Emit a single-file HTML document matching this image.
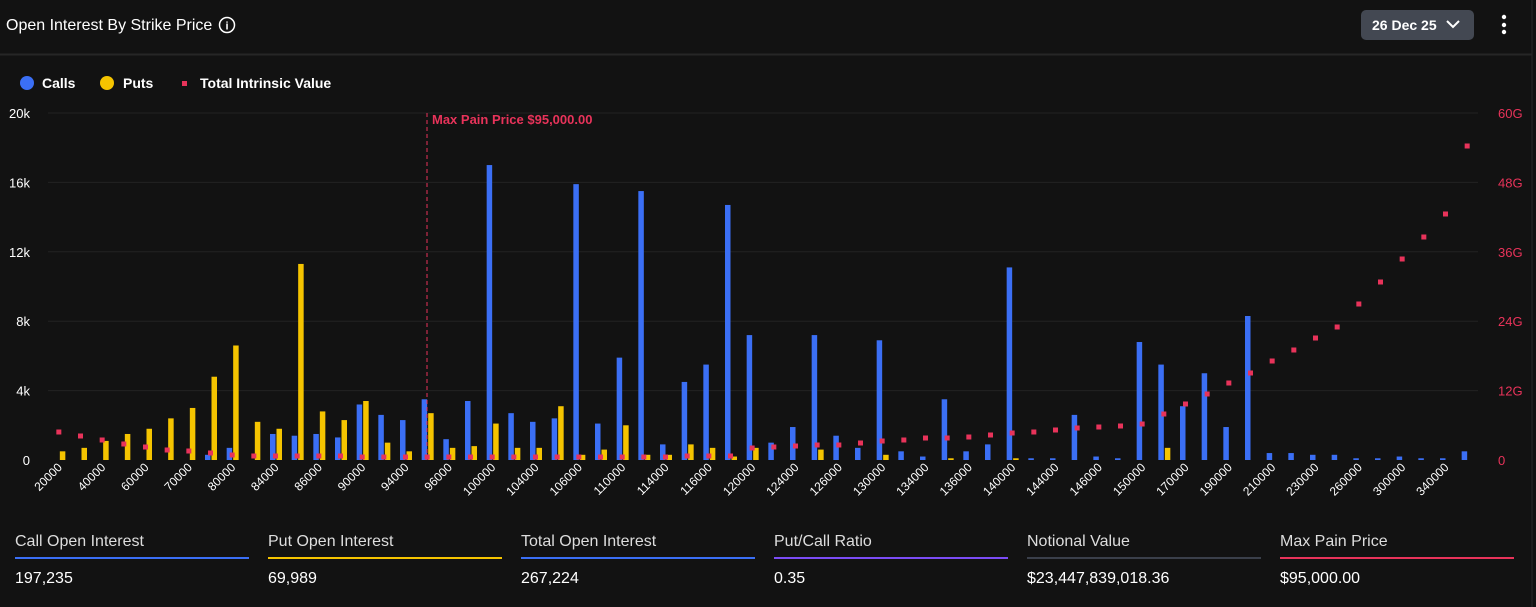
<!DOCTYPE html>
<html><head><meta charset="utf-8"><style>
body{margin:0;background:#121212;width:1536px;height:607px;overflow:hidden;font-family:"Liberation Sans",sans-serif;color:#fff}
svg{position:absolute;left:0;top:0}
</style></head><body>
<svg id="s" width="1536" height="607" xmlns="http://www.w3.org/2000/svg">
<rect x="0" y="0" width="1536" height="607" fill="#121212"/>
<line x1="1532" y1="0" x2="1532" y2="607" stroke="#2a2a2a"/>
<text x="6" y="30" font-size="16" fill="#fff">Open Interest By Strike Price</text>
<circle cx="227" cy="25" r="7.5" fill="none" stroke="#fff" stroke-width="1.5"/>
<text x="227" y="29.5" font-size="11" font-weight="bold" fill="#fff" text-anchor="middle">i</text>
<rect x="1361" y="10" width="113" height="30" rx="5" fill="#434852"/>
<text x="1372" y="30" font-size="14" font-weight="bold" fill="#fff">26 Dec 25</text>
<polyline points="1447,21 1453,27 1459,21" fill="none" stroke="#fff" stroke-width="2"/>
<circle cx="1504" cy="17" r="2.2" fill="#fff"/><circle cx="1504" cy="25" r="2.2" fill="#fff"/><circle cx="1504" cy="32" r="2.2" fill="#fff"/>
<line x1="0" y1="54.5" x2="1532" y2="54.5" stroke="#262626" stroke-width="2"/>
<circle cx="27" cy="83" r="7" fill="#3b6ff5"/>
<text x="42" y="88" font-size="14" font-weight="bold" fill="#fff">Calls</text>
<circle cx="107" cy="83" r="7" fill="#f5c400"/>
<text x="123" y="88" font-size="14" font-weight="bold" fill="#fff">Puts</text>
<rect x="182" y="81" width="5" height="5" fill="#e8335a"/>
<text x="200" y="88" font-size="14" font-weight="bold" fill="#fff">Total Intrinsic Value</text>
<g id="g"></g>
</svg>
<script>
const g=document.getElementById('g');let h='';
const y0=460,pk=347/20000;
[0,4,8,12,16,20].forEach((v,i)=>{const y=y0-v*1000*pk;
 if(i>0)h+=`<line x1="48" y1="${y}" x2="1478" y2="${y}" stroke="#222" stroke-width="1"/>`;
 h+=`<text x="30" y="${y+5}" font-size="13" fill="#fff" text-anchor="end">${v==0?'0':v+'k'}</text>`;
 const gv=i*12;h+=`<text x="1498" y="${y+5}" font-size="13" fill="#e8335a" text-anchor="start">${gv==0?'0':gv+'G'}</text>`;});
const C=[0,0,0,0,0,0,0,300,700,0,1500,1400,1500,1300,3200,2600,2300,3500,1200,3400,17000,2700,2200,2400,15900,2100,5900,15500,900,4500,5500,14700,7200,1000,1900,7200,1400,700,6900,500,200,3500,500,900,11100,100,100,2600,200,100,6800,5500,3100,5000,1900,8300,400,400,300,300,100,100,200,100,100,500];
const P=[500,700,1100,1500,1800,2400,3000,4800,6600,2200,1800,11300,2800,2300,3400,1000,500,2700,700,800,2100,700,700,3100,300,600,2000,300,300,900,700,200,700,0,0,600,0,0,300,0,0,100,0,0,100,0,0,0,0,0,0,700,0,0,0,0,0,0,0,0,0,0,0,0,0,0];
const DY=[432,436,440,444,447,450,451,453,455,456,456,456,456,456,457,457,457,457,457,457,457,457,457,457,457,457,457,457,457,456,456,456,448,447,446,445,445,443,441,440,438,438,437,435,433,432,430,428,427,426,424,414,404,394,383,373,361,350,338,327,304,282,259,237,214,146];
const L=['20000','40000','60000','70000','80000','84000','86000','90000','94000','96000','100000','104000','106000','110000','114000','116000','120000','124000','126000','130000','134000','136000','140000','144000','146000','150000','170000','190000','210000','230000','260000','300000','340000'];
const w=1430/66;
for(let i=0;i<66;i++){const c=48+w*(i+0.5);
 if(C[i]>0){const hh=C[i]*pk;h+=`<rect x="${c-5.5}" y="${y0-hh}" width="5.5" height="${hh}" fill="#3b6ff5"/>`;}
 if(P[i]>0){const hh=P[i]*pk;h+=`<rect x="${c+1}" y="${y0-hh}" width="5.5" height="${hh}" fill="#f5c400"/>`;}
 h+=`<rect x="${c-2.5}" y="${DY[i]-2.5}" width="5" height="5" fill="#e8335a"/>`;
 if(i%2==0){const lb=L[i/2];h+=`<text transform="translate(${c+4},${468}) rotate(-45)" font-size="12" fill="#fff" text-anchor="end">${lb}</text>`;}
}
h+=`<line x1="427" y1="113" x2="427" y2="460" stroke="#e8335a" stroke-dasharray="4,3"/>`;
h+=`<text x="432" y="124" font-size="13" font-weight="bold" fill="#e8335a">Max Pain Price $95,000.00</text>`;
const S=[['Call Open Interest','197,235','#3b6ff5'],['Put Open Interest','69,989','#f5c400'],['Total Open Interest','267,224','#3b6ff5'],['Put/Call Ratio','0.35','#7b4cf5'],['Notional Value','$23,447,839,018.36','#3a3f4a'],['Max Pain Price','$95,000.00','#e8335a']];
S.forEach((s,i)=>{const x=15+i*253;
 h+=`<text x="${x}" y="546" font-size="16" fill="#ddd">${s[0]}</text>`;
 h+=`<rect x="${x}" y="557" width="234" height="2" fill="${s[2]}"/>`;
 h+=`<text x="${x}" y="583" font-size="16" fill="#fff">${s[1]}</text>`;});
g.innerHTML=h;
</script>
</body></html>
